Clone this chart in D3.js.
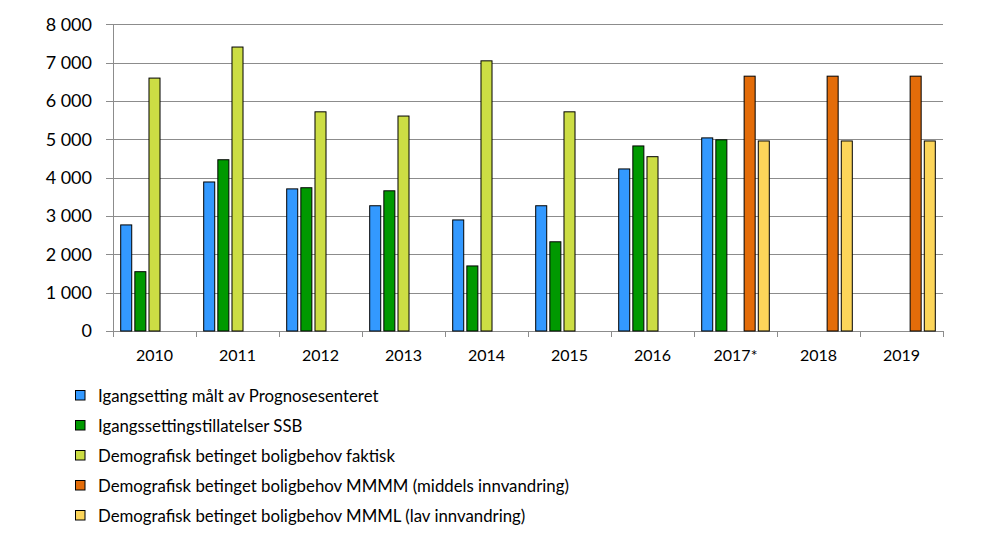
<!DOCTYPE html>
<html><head><meta charset="utf-8">
<script src="https://cdn.jsdelivr.net/npm/d3@7"></script>
<style>body{margin:0;background:#fff}svg{display:block}text{font-family:Lato,"Open Sans",sans-serif;fill:#000}</style>
</head><body>
<svg id="c" width="999" height="550"></svg>
<script>
const categories = ["2010","2011","2012","2013","2014","2015","2016","2017*","2018","2019"];
const seriesNames = [
  "Igangsetting målt av Prognosesenteret",
  "Igangssettingstillatelser SSB",
  "Demografisk betinget boligbehov faktisk",
  "Demografisk betinget boligbehov MMMM (middels innvandring)",
  "Demografisk betinget boligbehov MMML (lav innvandring)"
];
const seriesColors = ["#3399ff","#009900","#ccdd44","#e36c09","#fcd55a"];
const prognose  = [2780,3900,3720,3280,2910,3280,4240,5050,null,null];
const ssb       = [1560,4480,3750,3670,1710,2340,4840,5000,null,null];
const faktisk   = [6610,7420,5730,5620,7060,5730,4560,null,null,null];
const mmmm      = [null,null,null,null,null,null,null,6660,6660,6660];
const mmml      = [null,null,null,null,null,null,null,4970,4970,4970];
const yTicks = [0,1000,2000,3000,4000,5000,6000,7000,8000];

const values = [prognose, ssb, faktisk, mmmm, mmml];
const svg = d3.select("#c");
const L = 113, R = 943, T = 24.3, B = 331;

const x0 = d3.scaleBand().domain(categories).range([L, R]).padding(0);
const x1 = d3.scaleBand().domain(d3.range(5)).range([7.2, x0.bandwidth() - 7.2]).paddingInner(0.15);
const y = d3.scaleLinear().domain([0, 8000]).range([B, T]);
const fmt = v => d3.format(",")(v).replace(/,/g, " ");

// gridlines + y ticks
svg.append("g").selectAll("line").data(yTicks).join("line")
  .attr("x1", L - 7).attr("x2", R)
  .attr("y1", d => Math.round(y(d)) + 0.5).attr("y2", d => Math.round(y(d)) + 0.5)
  .attr("stroke", "#8c8c8c").attr("stroke-width", 1);
svg.append("g").selectAll("text").data(yTicks).join("text")
  .attr("x", 92).attr("y", d => y(d)).attr("dy", "0.36em")
  .attr("text-anchor", "end").attr("font-size", 18).text(fmt);

// y axis line
svg.append("line").attr("x1", L + 0.5).attr("x2", L + 0.5).attr("y1", T).attr("y2", B + 6)
  .attr("stroke", "#8c8c8c");

// x category tick marks
const bounds = categories.map(c => x0(c)).concat([R]);
svg.append("g").selectAll("line").data(bounds).join("line")
  .attr("x1", d => Math.round(d) + 0.5).attr("x2", d => Math.round(d) + 0.5)
  .attr("y1", B).attr("y2", B + 6).attr("stroke", "#8c8c8c");

// bars
const g = svg.append("g");
values.forEach((vals, si) => {
  g.append("g").selectAll("rect")
    .data(vals.map((v, i) => ({v, c: categories[i]})).filter(d => d.v != null))
    .join("rect")
    .attr("x", d => x0(d.c) + x1(si) + 0.5)
    .attr("width", x1.bandwidth() - 1)
    .attr("y", d => y(d.v) + 0.5)
    .attr("height", d => B - y(d.v) - 0.5)
    .attr("fill", seriesColors[si]).attr("stroke", "#000").attr("stroke-width", 1);
});

// x labels
svg.append("g").selectAll("text").data(categories).join("text")
  .attr("x", d => x0(d) + x0.bandwidth() / 2).attr("y", 361)
  .attr("text-anchor", "middle").attr("font-size", 16).text(d => d);

// legend
const lg = svg.append("g");
seriesNames.forEach((n, i) => {
  const cy = 395.5 + i * 30;
  lg.append("rect").attr("x", 75.5).attr("y", cy - 5).attr("width", 9.5).attr("height", 9.5)
    .attr("fill", seriesColors[i]).attr("stroke", "#000").attr("stroke-width", 1);
  lg.append("text").attr("x", 98).attr("y", cy).attr("dy", "0.36em")
    .attr("font-size", 16.8).text(n);
});
</script>
</body></html>
